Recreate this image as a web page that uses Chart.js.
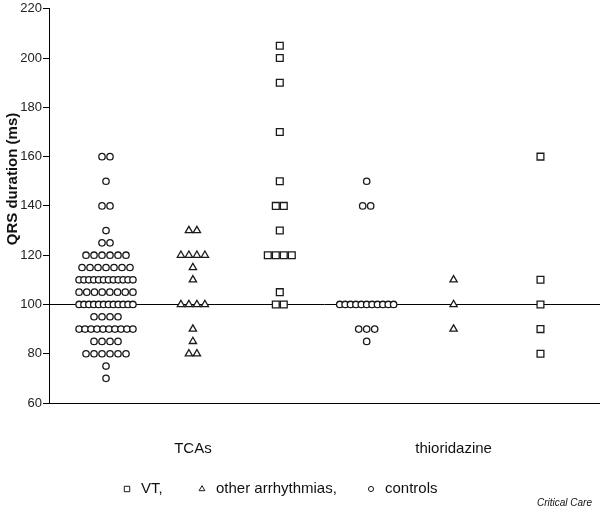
<!DOCTYPE html>
<html>
<head>
<meta charset="utf-8">
<script src="https://cdn.jsdelivr.net/npm/chart.js@4.4.1/dist/chart.umd.min.js"></script>
<style>
  html, body { margin: 0; padding: 0; background: #fff; }
  #wrap { width: 600px; height: 510px; position: relative; }
</style>
</head>
<body>
<div id="wrap"><canvas id="qrsChart"></canvas></div>
<script>
const drugGroups = ["TCAs", "thioridazine"];
const seriesLabels = ["VT,", "other arrhythmias,", "controls"];
const seriesStyles = ["rect", "triangle", "circle"];
const yTickValues = [60, 80, 100, 120, 140, 160, 180, 200, 220];
const yTitle = "QRS duration (ms)";
const referenceQrs = 100;

// QRS duration (ms), one value per patient
const tcaVT = [205, 200, 190, 170, 150, 140, 140, 130, 120, 120, 120, 120, 105, 100, 100];
const tcaOther = [130, 130, 120, 120, 120, 120, 115, 110, 100, 100, 100, 100, 90, 85, 80, 80];
const tcaControls = [
  160, 160, 150, 140, 140, 130, 125, 125,
  120, 120, 120, 120, 120, 120,
  115, 115, 115, 115, 115, 115, 115,
  110, 110, 110, 110, 110, 110, 110, 110, 110, 110, 110, 110,
  105, 105, 105, 105, 105, 105, 105, 105,
  100, 100, 100, 100, 100, 100, 100, 100, 100, 100, 100, 100,
  95, 95, 95, 95,
  90, 90, 90, 90, 90, 90, 90, 90, 90, 90,
  85, 85, 85, 85,
  80, 80, 80, 80, 80, 80,
  75, 70,
];
const thioVT = [160, 110, 100, 90, 80];
const thioOther = [110, 100, 90];
const thioControls = [150, 140, 140, 100, 100, 100, 100, 100, 100, 100, 100, 100, 100, 100, 90, 90, 90, 85];

// values per series (VT, other, controls), per drug group
const seriesData = [
  [tcaVT, thioVT],
  [tcaOther, thioOther],
  [tcaControls, thioControls],
];

// column order inside a drug group: controls, other, VT
const slotOrder = [2, 1, 0];
const DOT_STEP = 0.092;
const DOT_SPAN = 0.62;

// spread equal values side by side, dot-plot style
function spread(values, slot) {
  const counts = {};
  values.forEach(v => { counts[v] = (counts[v] || 0) + 1; });
  const seen = {};
  return values.map(v => {
    const n = counts[v];
    const i = (seen[v] = seen[v] === undefined ? 0 : seen[v] + 1);
    const step = n > 1 ? Math.min(DOT_STEP, DOT_SPAN / (n - 1)) : 0;
    return { x: slot + (i - (n - 1) / 2) * step, y: v };
  });
}

const datasets = seriesLabels.map((label, s) => {
  let pts = [];
  seriesData[s].forEach((vals, g) => {
    pts = pts.concat(spread(vals, g * 3 + slotOrder[s]));
  });
  return {
    label,
    data: pts,
    pointStyle: seriesStyles[s],
    pointRadius: [4.8, 4.2, 3.2][s],
    pointHoverRadius: [4.8, 4.2, 3.2][s],
    borderColor: "#1a1a1a",
    backgroundColor: "#fff",
    borderWidth: 1.3,
  };
});

const refLinePlugin = {
  id: "refLine",
  beforeDatasetsDraw(chart) {
    const { ctx, chartArea, scales } = chart;
    const y = Math.round(scales.y.getPixelForValue(referenceQrs)) + 0.5;
    ctx.save();
    ctx.strokeStyle = "#000";
    ctx.lineWidth = 1;
    ctx.beginPath();
    ctx.moveTo(chartArea.left, y);
    ctx.lineTo(chartArea.right, y);
    ctx.stroke();
    ctx.restore();
  },
};

const legendX = [127, 202, 371];
const legendPlugin = {
  id: "dotLegend",
  afterDraw(chart) {
    const ctx = chart.ctx;
    ctx.save();
    chart.data.datasets.forEach((ds, i) => {
      ctx.strokeStyle = "#1a1a1a";
      ctx.fillStyle = "#fff";
      ctx.lineWidth = 1;
      Chart.helpers.drawPoint(ctx, {
        pointStyle: ds.pointStyle,
        radius: ds.pointRadius * 0.8,
        borderWidth: 1,
        rotation: 0,
      }, legendX[i], 489);
      ctx.fillStyle = "#111";
      ctx.font = "15px 'Liberation Sans', Arial, sans-serif";
      ctx.textBaseline = "middle";
      ctx.fillText(ds.label, legendX[i] + 14, 489);
    });
    ctx.font = "italic 10px 'Liberation Sans', Arial, sans-serif";
    ctx.textAlign = "right";
    ctx.fillText("Critical Care", 592, 503);

    // y axis title
    ctx.translate(13, 179);
    ctx.rotate(-Math.PI / 2);
    ctx.textAlign = "center";
    ctx.font = "bold 15px 'Liberation Sans', Arial, sans-serif";
    ctx.fillText(yTitle, 0, 0);
    ctx.restore();
  },
};

Chart.defaults.font.family = "'Liberation Sans', Arial, sans-serif";
Chart.defaults.color = "#111";

new Chart(document.getElementById("qrsChart"), {
  type: "scatter",
  data: { datasets },
  plugins: [refLinePlugin, legendPlugin],
  options: {
    animation: false,
    responsive: true,
    maintainAspectRatio: false,
    layout: { autoPadding: false, padding: { top: 7, right: 0, bottom: 0, left: 0 } },
    plugins: {
      legend: { display: false },
      tooltip: { enabled: false },
    },
    scales: {
      x: {
        type: "linear",
        min: -0.656,
        max: 5.685,
        afterFit(scale) { scale.height = 107; },
        afterBuildTicks(scale) {
          scale.ticks = drugGroups.map((g, i) => ({ value: i * 3 + 1 }));
        },
        ticks: {
          padding: 29,
          maxRotation: 0,
          font: { size: 15 },
          callback(val) { return drugGroups[Math.round((val - 1) / 3)]; },
        },
        grid: { display: false },
        border: { display: true, color: "#000", width: 1 },
      },
      y: {
        min: 60,
        max: 220,
        afterFit(scale) { scale.width = 49; },
        afterBuildTicks(scale) {
          scale.ticks = yTickValues.map(v => ({ value: v }));
        },
        ticks: { padding: 1, font: { size: 13 }, color: "#222" },
        grid: { drawOnChartArea: false, drawTicks: true, tickLength: 6, color: "#000" },
        border: { display: true, color: "#000", width: 1 },
      },
    },
  },
});
</script>
</body>
</html>
